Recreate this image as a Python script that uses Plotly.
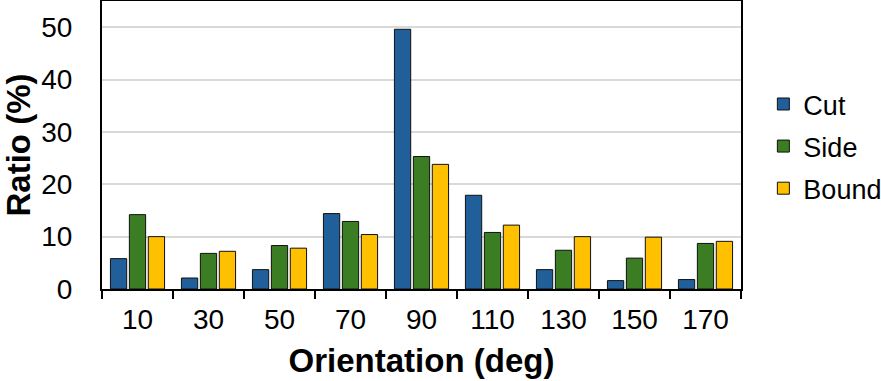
import plotly.graph_objects as go

# Orientation bins (deg) and ratio (%) per boundary type
orientations = ["10", "30", "50", "70", "90", "110", "130", "150", "170"]
cut = [5.8, 2.1, 3.7, 14.4, 49.6, 17.9, 3.7, 1.6, 1.8]
side = [14.2, 6.8, 8.3, 12.9, 25.3, 10.8, 7.4, 5.9, 8.7]
bound = [10.0, 7.2, 7.8, 10.4, 23.8, 12.2, 10.0, 9.9, 9.1]

series = [
    ("Cut", cut, "#215F9A"),
    ("Side", side, "#3B7D23"),
    ("Bound", bound, "#FFC000"),
]

fig = go.Figure()
for name, vals, color in series:
    fig.add_trace(go.Bar(
        x=orientations,
        y=vals,
        name=name,
        legendgroup=name,
        marker=dict(color=color, line=dict(color="#111111", width=1)),
    ))

font_family = "Liberation Sans, Arial, sans-serif"

fig.update_layout(
    width=881,
    height=381,
    margin=dict(l=102, r=140, t=1, b=92, autoexpand=False),
    plot_bgcolor="white",
    paper_bgcolor="white",
    barmode="group",
    bargap=0.2,
    bargroupgap=0.14,
    font=dict(family=font_family, size=28, color="#000000"),
    legend=dict(
        x=1.035, y=0.495, xanchor="left", yanchor="middle",
        font=dict(size=27),
        itemwidth=30,
        tracegroupgap=4,
    ),
    xaxis=dict(
        title=dict(text="<b>Orientation (deg)</b>", font=dict(size=33)),
        showline=True, linecolor="black", linewidth=2, mirror=True,
        ticks="outside", tickson="boundaries", ticklen=8, tickwidth=2, tickcolor="black",
        tickfont=dict(size=28),
        ticklabelstandoff=4,
        showgrid=False,
    ),
    yaxis=dict(
        title=dict(text="<b>Ratio (%)</b>", font=dict(size=33)),
        range=[0, 55],
        tickvals=[0, 10, 20, 30, 40, 50],
        showline=True, linecolor="black", linewidth=2, mirror=True,
        showgrid=True, gridcolor="#D9D9D9", gridwidth=2,
        zeroline=False,
        ticks="", tickfont=dict(size=28),
        ticklabelstandoff=22,
    ),
)

fig.write_html(
    "out.html",
    config={"displayModeBar": False},
    post_script="document.body.style.margin='0';",
)
